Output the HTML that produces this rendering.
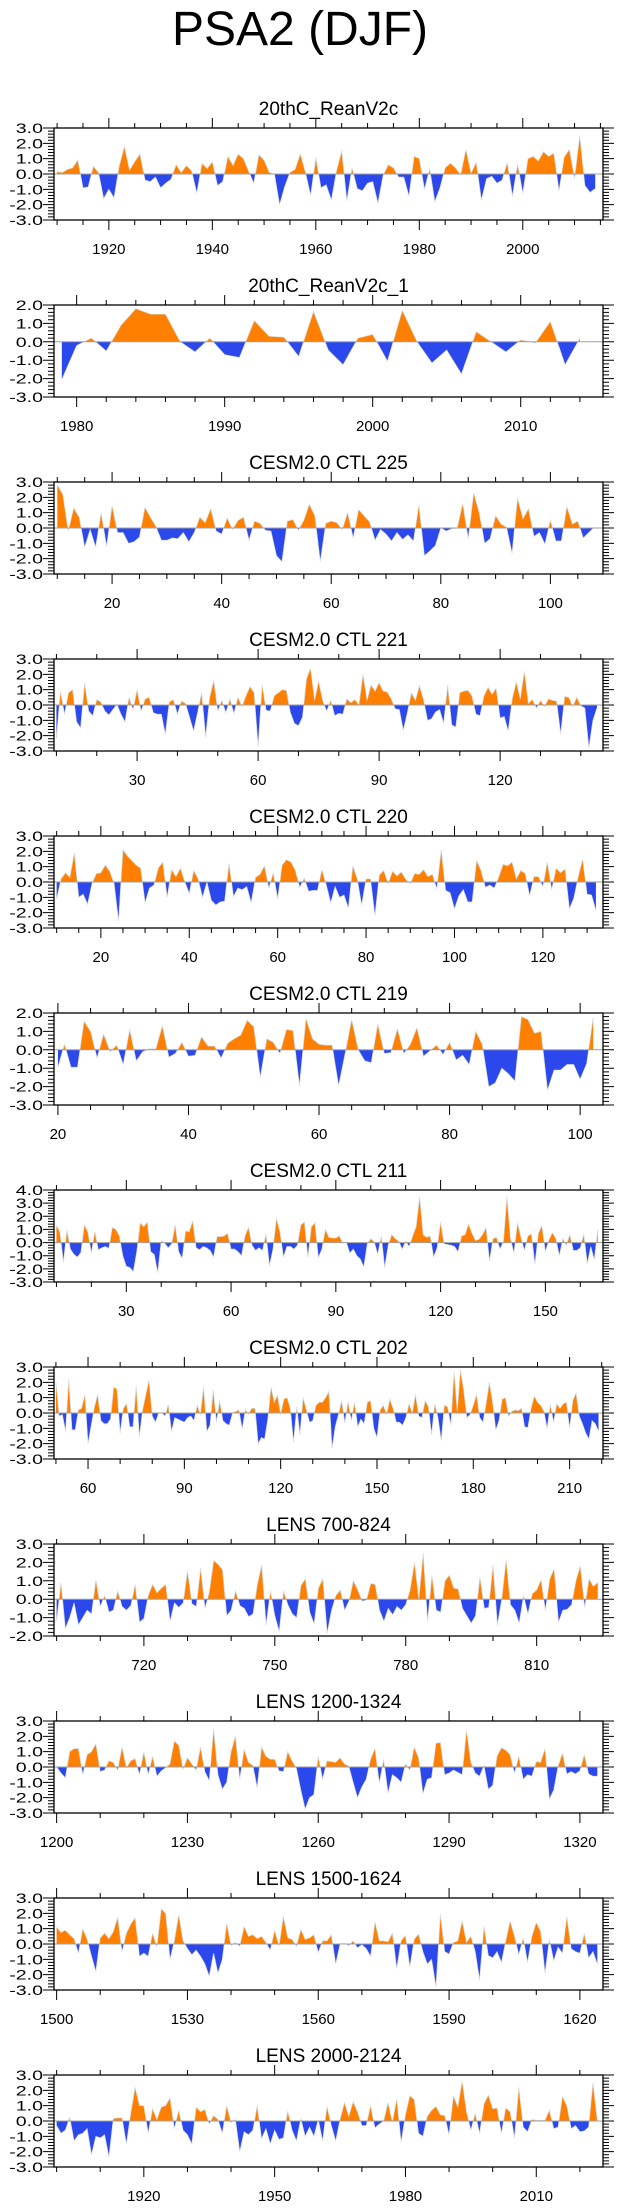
<!DOCTYPE html>
<html><head><meta charset="utf-8">
<style>
html,body{margin:0;padding:0;background:#fff;}
svg{display:block;font-family:"Liberation Sans",Arial,sans-serif;}
</style></head>
<body>
<svg id="fig" width="623" height="2209" viewBox="0 0 623 2209" xmlns="http://www.w3.org/2000/svg">
<text x="300" y="45" font-size="48" text-anchor="middle" fill="#000">PSA2 (DJF)</text>
</svg>
<script>
// ---- data (top-level arrays) ----
const p1Title = "20thC_ReanV2c";
const p1Start = 1910;
const p1Values = [0.15,0.1,0.3,0.4,0.9,-0.9,-0.85,0.5,0.1,-1.6,-1.0,-1.55,0.5,1.8,0.25,0.8,1.3,-0.4,-0.5,-0.2,-0.9,-0.6,-0.35,0.6,0.1,0.55,0.2,-1.25,0.7,0.35,0.8,-0.75,-0.5,1.15,0.55,1.3,1.0,0.2,-0.6,1.25,0.9,0.1,0,-2.0,-0.8,0.1,0.3,1.3,0.1,-1.4,1.05,-0.9,-0.7,-1.7,0.2,1.5,-1.75,0.4,-0.95,-1.1,-0.6,-0.5,-1.9,-0.1,0.6,0.4,-0.2,-0.2,-1.45,1.15,1.0,-1.0,0.35,-1.8,-0.9,0.4,0.7,0.4,-0.05,1.6,0.05,0.75,-1.7,-0.3,-0.15,-0.6,-0.4,0.75,-1.45,0.65,-1.25,1.0,1.15,0.85,1.45,1.15,1.35,-1.1,1.1,1.6,-0.3,2.5,-0.75,-1.2,-0.95];
const p1XTicks = [1920,1940,1960,1980,2000];

const p2Title = "20thC_ReanV2c_1";
const p2Start = 1979;
const p2Values = [-2.05,-0.2,0.2,-0.5,0.9,1.8,1.5,1.5,0.0,-0.55,0.2,-0.7,-0.85,1.15,0.3,0.25,-0.8,1.65,-0.45,-1.25,0.2,0.4,-1.05,1.7,0.0,-1.15,-0.45,-1.75,0.55,0.0,-0.55,0.1,-0.05,1.1,-1.25,0.2];
const p2XTicks = [1980,1990,2000,2010];

const p3Title = "CESM2.0 CTL 225";
const p3Start = 10;
const p3Values = [2.8,2.2,-0.2,1.3,0.7,-1.25,-0.1,-1.25,1.0,-1.2,1.45,-0.3,-0.3,-1.0,-0.9,-0.6,1.35,0.7,0.1,-0.8,-0.8,-0.65,-0.7,-0.3,-0.9,-0.3,0.7,0.35,1.25,-0.2,-0.4,0.65,-0.1,0.5,0.7,-0.8,0.45,0.3,-0.15,-0.2,-1.8,-2.2,0.45,0.55,-0.15,0.5,1.55,0.8,-2.2,0.3,0.45,0.35,-0.1,1.0,-0.65,1.2,0.8,0.4,-0.8,-0.1,-0.4,-0.85,-0.3,-0.75,-0.45,-0.85,1.5,-1.8,-1.5,-1.15,0.0,-0.2,-0.05,0.0,1.6,-0.7,2.3,1.0,-1.0,-0.7,0.8,0.25,0.05,-1.65,1.95,0.6,1.25,-0.55,-0.3,-1.05,0.5,-0.85,-0.85,1.4,0.25,0.45,-0.65,-0.3,0.05];
const p3XTicks = [20,40,60,80,100];

const p4Title = "CESM2.0 CTL 221";
const p4Start = 10;
const p4Values = [-2.2,0.9,-0.6,0.8,1.0,-1.1,-1.5,1.45,-0.4,-0.7,0.35,0.2,-0.4,-0.65,-0.3,0.05,-0.6,-1.1,0.5,-0.3,1.0,-0.4,0.4,0.5,-0.5,-0.6,-0.6,-1.9,0.2,0.35,-0.6,0.25,0.1,-0.8,-1.7,-0.5,0.8,-2.1,0.5,1.6,-0.4,0.3,-0.5,0.4,-0.55,0.5,-0.1,0.6,1.2,0.8,-2.7,1.3,-0.35,-0.4,0.6,0.8,1.0,0.95,-0.5,-1.2,-1.35,-0.8,1.7,2.4,0.3,1.55,0.3,-0.4,0.3,-0.7,-0.55,-0.6,0.4,0.15,0.35,0.0,2.0,0.3,1.3,0.9,1.45,0.9,0.85,0.4,-0.25,-0.3,-1.65,-0.5,0.8,0.3,1.25,0.35,-1.0,-0.9,-0.45,-0.3,-1.2,1.3,-1.3,-1.45,0.8,0.9,0.95,0.6,-0.6,-0.7,0.6,1.15,0.7,1.1,-0.85,-0.75,-1.7,0.4,1.5,0.4,2.2,0.1,0.35,-0.2,0.3,-0.1,0.4,0.3,0.25,-1.9,0.55,0.5,-0.1,0.5,-0.05,-0.2,-2.8,-1.0,-0.2];
const p4XTicks = [30,60,90,120];

const p5Title = "CESM2.0 CTL 220";
const p5Start = 10;
const p5Values = [-1.1,0.2,0.6,0.3,1.9,-1.0,-0.8,-1.45,-0.1,0.55,0.6,1.1,0.7,-0.1,-2.55,2.1,1.7,1.4,1.1,0.9,-1.35,-0.4,-0.2,0.9,1.3,-1.0,0.8,0.35,0.9,0.0,-0.75,0.75,0.2,-1.0,0.0,-1.2,-1.5,-1.3,-1.25,1.2,-0.95,-0.4,-0.5,-0.3,-1.35,0.3,0.5,1.05,-0.4,0.6,-1.1,1.1,1.45,1.3,0.75,-0.35,0.25,-0.6,-0.55,-0.55,0.8,-0.2,-1.35,-0.3,-1.0,-0.85,-1.7,1.05,0.2,-1.5,0.2,0.2,-2.2,0.45,0.75,-0.1,0.7,0.4,0.65,0.15,-0.1,0.55,0.5,0.8,0.35,0.5,-0.45,2.1,-0.55,-0.7,-1.75,-0.9,-0.5,-1.3,-1.3,1.4,0.75,-0.35,-0.2,-0.4,0.3,1.15,1.05,1.3,0.2,0.75,0.55,-0.9,0.35,0.35,-0.3,1.3,-0.5,0.9,0.6,0.85,-1.75,-1.05,0.35,1.5,-0.8,-0.85,-1.85];
const p5XTicks = [20,40,60,80,100,120];

const p6Title = "CESM2.0 CTL 219";
const p6Start = 20;
const p6Values = [-0.95,0.3,-0.95,-0.95,1.55,1.0,-0.45,0.85,-0.1,0.25,-0.8,1.1,-0.6,-0.1,0.05,0.05,1.3,-0.4,-0.2,0.4,-0.35,-0.3,0.7,0.2,0.2,-0.45,0.35,0.6,0.8,1.6,1.25,-1.5,0.6,0.4,-0.2,1.1,1.05,-1.95,1.7,0.6,0.3,0.25,0.25,-1.95,-0.2,1.65,0.0,-0.6,-0.7,1.4,-0.2,-0.15,1.15,-0.2,0.3,1.2,-0.35,-0.05,0.25,-0.25,0.4,-0.55,-0.3,-0.8,1.0,0.3,-2.0,-1.8,-1.0,-1.3,-1.7,1.8,1.65,0.9,1.0,-2.2,-1.1,-1.1,-0.8,-0.8,-1.6,-0.75,1.75];
const p6XTicks = [20,40,60,80,100];

const p7Title = "CESM2.0 CTL 211";
const p7Start = 10;
const p7Values = [1.3,0.8,-1.5,0.95,-0.5,-0.9,-1.1,-0.75,1.35,0.8,-0.8,0.85,-0.55,-0.4,-0.3,-0.45,1.15,1.0,0.5,-1.0,-1.8,-1.9,-2.2,-0.7,1.5,1.2,1.55,-0.7,-0.9,-2.3,0.15,-0.05,-0.4,-0.1,1.35,-0.7,-1.2,0.9,0.8,1.65,-0.4,-0.55,-0.3,-0.4,-0.6,-1.1,0.45,0.45,0.5,0.7,-0.5,-0.5,-0.7,-1.0,0.5,1.15,-0.2,-0.6,-0.4,-0.6,0.65,-1.75,-0.5,1.85,0.8,-1.1,-0.3,-0.3,-0.5,-0.2,1.35,1.55,-1.1,1.2,1.5,-1.15,-0.5,1.0,0.4,0.35,0.35,0.5,-0.05,0.05,-0.8,-0.5,-1.0,-1.25,-1.85,-0.1,0.3,0.05,-0.9,0.5,-1.9,-0.2,0.6,0.3,0.1,-0.5,0.1,-0.3,0.5,1.2,3.5,0.6,0.4,0.5,-1.1,-0.4,1.55,-0.1,-0.15,-0.2,-0.3,-0.7,0.5,0.6,1.4,0.7,0.15,0.25,0.6,1.15,-1.4,0.3,0.4,-0.5,0.1,3.5,0.3,-0.8,1.5,0.4,-0.6,0.5,0.65,-1.65,0.7,1.3,-0.7,0.2,0.75,0.3,-1.0,0.3,-0.2,0.6,-0.6,-0.6,-0.4,0.65,-1.6,-0.3,-1.3,1.0];
const p7XTicks = [30,60,90,120,150];

const p8Title = "CESM2.0 CTL 202";
const p8Start = 50;
const p8Values = [2.0,-0.2,-0.1,-1.2,2.2,-1.1,-1.1,0.2,0.3,1.2,-2.0,-0.8,0.4,1.2,-0.5,-0.7,-0.7,-0.4,1.7,1.55,-1.3,0.3,0.6,-0.9,-0.9,1.75,-1.55,0.2,1.2,2.15,-0.2,-0.6,0.0,0.0,-0.2,0.55,-1.2,-0.3,-0.4,-0.5,-0.6,-0.3,-0.2,-0.5,0.5,-0.1,1.7,-1.2,-0.8,1.5,-0.6,0.8,-0.5,-0.7,-0.8,0.0,0.1,0.2,-1.05,0.2,-0.05,0.3,0.3,-2.0,-1.6,-1.7,-0.4,1.7,0.7,1.15,-0.1,0.9,1.0,0.3,-1.9,0.4,-1.4,1.0,0.2,-0.6,-0.5,0.5,0.7,0.7,1.0,1.4,-2.3,-0.9,-0.1,0.8,-0.65,0.75,-0.5,0.7,-0.9,-0.4,-0.7,0.7,0.8,-1.0,-1.6,0.2,0.5,-0.1,0.9,0.3,-0.6,-0.6,-0.8,-0.3,0.6,0.0,1.2,-0.2,-0.3,0.8,0.4,-1.4,0.6,-0.3,-1.8,0.5,0.4,-0.8,2.7,0.1,2.8,1.5,-0.3,-0.1,0.5,1.2,-0.3,-0.6,0.6,2.0,0.7,-1.1,-0.5,0.9,1.0,-0.2,0.1,0.2,0.15,0.3,-0.9,-0.95,0.3,1.1,0.7,0.5,0.1,-1.0,0.55,-0.6,0.6,0.3,0.6,0.7,-1.0,0.8,1.3,-0.2,-0.7,-1.3,-1.7,-0.5,-0.7,-1.2];
const p8XTicks = [60,90,120,150,180,210];

const p9Title = "LENS 700-824";
const p9Start = 700;
const p9Values = [-1.2,0.9,-1.6,-1.0,-0.2,-1.4,-1.0,-0.6,-0.8,1.05,-0.4,0.2,-0.7,-0.6,0.45,-0.4,-0.6,-0.35,0.8,-1.25,-1.05,0.2,0.8,0.35,0.6,0.8,-1.2,-0.2,-0.45,-0.2,1.55,-0.25,-0.4,1.7,-0.5,0.4,2.1,1.9,1.6,-0.9,-0.6,0.45,-0.35,-0.5,-0.95,-0.8,0.8,1.85,-1.4,0.45,-0.9,-1.75,0.45,-0.3,-0.8,-1.0,0.75,1.1,-0.7,-1.35,0.6,1.1,-1.85,-0.6,0.2,0.5,-0.6,-0.1,1.0,0.5,-0.1,-0.05,0.85,0.8,-0.6,-1.2,-0.5,-0.85,-0.4,-0.6,-0.3,0.5,2.0,0.0,2.5,-1.2,1.3,-0.6,-0.7,1.0,1.3,0.6,0.55,-0.5,-0.9,-1.3,-0.9,1.2,-0.5,-0.45,1.85,-1.4,0.0,2.15,-0.3,-0.6,-1.3,0.2,-0.8,0.3,0.5,1.05,-0.6,1.1,1.65,-1.25,-0.6,-0.55,-0.3,1.0,1.8,-0.45,1.1,0.7,0.9];
const p9XTicks = [720,750,780,810];

const p10Title = "LENS 1200-1324";
const p10Start = 1200;
const p10Values = [0.0,-0.4,-0.7,1.0,1.2,1.2,-0.5,0.8,1.0,1.5,-0.3,-0.2,0.4,0.3,-0.2,1.3,-0.05,0.4,0.55,-0.5,1.0,-0.5,0.7,-0.6,-0.25,-0.05,0.2,1.7,1.4,-0.15,0.6,0.2,-0.2,1.3,-0.3,-0.9,2.5,-0.5,-1.45,-1.0,1.0,2.0,-0.8,1.15,0.3,0.1,-1.35,1.3,0.7,0.5,0.5,-0.25,-0.3,1.0,0.4,-0.1,-1.5,-2.75,-2.0,-1.8,0.7,-0.8,0.4,0.35,0.3,0.6,0.2,0.05,-1.0,-2.0,-1.3,-0.8,0.5,1.2,-1.05,0.5,-1.7,-0.5,-0.7,-1.0,0.2,-0.2,1.3,0.6,-1.75,-0.8,-0.7,1.55,1.6,-0.5,-0.4,-0.2,-0.35,-0.5,2.4,0.3,-0.4,-0.6,0.1,-1.45,-1.2,0.7,1.25,1.1,0.8,-0.4,0.7,-0.8,-0.5,-0.6,0.35,0.3,1.2,-2.1,-1.5,0.05,0.9,-0.45,-0.3,-0.45,-0.25,0.8,-0.45,-0.6,-0.6];
const p10XTicks = [1200,1230,1260,1290,1320];

const p11Title = "LENS 1500-1624";
const p11Start = 1500;
const p11Values = [1.1,0.75,0.9,0.6,0.35,-0.6,1.0,0.3,-0.8,-1.8,0.4,0.7,0.35,0.8,1.75,-0.5,0.7,1.3,1.7,-0.8,-0.6,-0.8,0.7,-0.2,2.3,2.0,-1.0,0.2,1.9,0.2,-0.3,-0.7,-0.4,-0.8,-1.3,-2.1,-0.6,-1.9,-1.0,1.35,-0.1,0.1,-0.15,1.15,0.5,0.6,0.35,0.5,0.1,-0.4,0.9,-0.15,1.8,0.4,0.3,-0.15,0.95,0.3,0.4,0.6,-0.55,0.2,0.2,0.6,-1.3,0.0,0.05,-0.1,0.2,-0.25,-0.05,-0.3,-0.8,1.45,0.2,0.2,0.15,0.7,-1.6,0.2,0.55,-1.5,0.3,0.65,-0.5,-1.3,-1.0,-2.8,1.95,-0.5,-0.65,0.1,0.2,1.5,0.1,0.5,-0.5,-2.35,1.15,-0.75,-0.9,-0.5,-1.2,0.2,1.5,0.5,-0.7,0.4,-1.2,0.5,1.4,0.8,-1.9,0.3,-1.1,-0.2,-0.6,1.8,-0.3,-0.5,-0.6,0.7,-0.9,-0.5,-1.3];
const p11XTicks = [1500,1530,1560,1590,1620];

const p12Title = "LENS 2000-2124";
const p12Start = 1900;
const p12Values = [-0.3,-0.8,-0.6,0.25,-1.3,-0.9,-0.8,-0.5,-2.2,-1.0,-1.1,-0.9,-2.35,0.15,0.2,0.2,-1.5,0.5,2.2,1.0,1.0,-0.8,0.8,0.1,0.9,1.0,1.5,-0.5,0.7,-0.6,-0.9,-1.5,0.9,0.6,0.75,-0.2,0.35,0.1,-0.8,1.0,-0.1,0.1,-2.0,-0.7,-0.9,-0.6,1.0,-1.15,-0.5,-1.5,-0.6,-1.2,-1.1,0.65,-0.6,-1.3,0.15,-1.0,-0.4,-1.0,0.1,-1.3,0.95,-0.3,-1.3,0.1,1.2,0.3,1.25,0.6,-0.3,-0.3,1.0,-0.45,-0.2,0.0,1.2,-0.1,1.45,-1.4,0.4,1.65,1.4,-0.8,-1.0,0.3,0.7,0.95,0.4,0.35,-0.9,1.65,0.9,2.6,0.6,-0.6,0.5,-0.8,1.1,1.7,0.8,0.85,-0.8,0.85,0.6,-1.1,2.2,-0.4,-0.7,0.1,0.05,0.05,0.05,0.7,-0.5,-0.4,1.6,1.0,-0.5,-0.3,-0.7,-0.65,-0.4,2.5,0.0];
const p12XTicks = [1920,1950,1980,2010];

// ---- layout ----
const NS = "http://www.w3.org/2000/svg";
const svg = document.getElementById('fig');
const PL = 54, PR = 603, PH = 92, TOP0 = 128, PITCH = 177;

const panels = [
  {title:p1Title, start:p1Start, vals:p1Values, ticks:p1XTicks, minor:5, xd:[1909.4,2015.5], yd:[-3,3]},
  {title:p2Title, start:p2Start, vals:p2Values, ticks:p2XTicks, minor:2, xd:[1978.47,2015.56], yd:[-3,2]},
  {title:p3Title, start:p3Start, vals:p3Values, ticks:p3XTicks, minor:5, xd:[9.4,109.6], yd:[-3,3]},
  {title:p4Title, start:p4Start, vals:p4Values, ticks:p4XTicks, minor:10, xd:[9.4,145.5], yd:[-3,3]},
  {title:p5Title, start:p5Start, vals:p5Values, ticks:p5XTicks, minor:5, xd:[9.4,133.6], yd:[-3,3]},
  {title:p6Title, start:p6Start, vals:p6Values, ticks:p6XTicks, minor:5, xd:[19.4,103.5], yd:[-3,2]},
  {title:p7Title, start:p7Start, vals:p7Values, ticks:p7XTicks, minor:10, xd:[9.3,166.5], yd:[-3,4]},
  {title:p8Title, start:p8Start, vals:p8Values, ticks:p8XTicks, minor:10, xd:[49.4,220.4], yd:[-3,3]},
  {title:p9Title, start:p9Start, vals:p9Values, ticks:p9XTicks, minor:10, xd:[699.4,825.2], yd:[-2,3]},
  {title:p10Title, start:p10Start, vals:p10Values, ticks:p10XTicks, minor:10, xd:[1199.4,1325.3], yd:[-3,3]},
  {title:p11Title, start:p11Start, vals:p11Values, ticks:p11XTicks, minor:10, xd:[1499.4,1625.3], yd:[-3,3]},
  {title:p12Title, start:p12Start, vals:p12Values, ticks:p12XTicks, minor:10, xd:[1899.4,2025.3], yd:[-3,3]}
];

function mk(tag, attrs, parent){
  const e = document.createElementNS(NS, tag);
  for (const k in attrs) e.setAttribute(k, attrs[k]);
  parent.appendChild(e);
  return e;
}

panels.forEach((p, i) => {
  const top = TOP0 + PITCH*i, bot = top + PH;
  const g = mk('g', {}, svg);
  
  
  const xs = v => PL + (v - p.xd[0]) / (p.xd[1]-p.xd[0]) * (PR-PL);
  const ys = v => bot - (v - p.yd[0]) / (p.yd[1]-p.yd[0]) * PH;
  const y0 = ys(0);

  const t = mk('text', {x:(PL+PR)/2, y:top-13, 'font-size':19, 'text-anchor':'middle', fill:'#000'}, g);
  t.textContent = p.title;
  
  

  let d = '';
  p.vals.forEach((v, k) => { d += (k ? 'L' : 'M') + xs(p.start+k).toFixed(2) + ',' + ys(v).toFixed(2); });
  const x0 = xs(p.start), xn = xs(p.start + p.vals.length - 1);
  const area = d + 'L' + xn.toFixed(2) + ',' + y0.toFixed(2) + 'L' + x0.toFixed(2) + ',' + y0.toFixed(2) + 'Z';
  const cpA = mk('clipPath', {id:'ca'+i}, g);
  mk('rect', {x:PL, y:top, width:PR-PL, height:y0-top}, cpA);
  const cpB = mk('clipPath', {id:'cb'+i}, g);
  mk('rect', {x:PL, y:y0, width:PR-PL, height:bot-y0}, cpB);
  const pos = mk('path', {d:area, fill:'#ff8000', 'clip-path':'url(#ca'+i+')'}, g);
  
  
  const neg = mk('path', {d:area, fill:'#2b48ec', 'clip-path':'url(#cb'+i+')'}, g);
  
  
  const ln = mk('path', {d:d, fill:'none', stroke:'#d8d8d8', 'stroke-width':0.7}, g);
  
  
  const zl = mk('line', {x1:PL, x2:PR, y1:y0, y2:y0, stroke:'#a0a0a0', 'stroke-width':1}, g);
  
  

  const fr = mk('rect', {x:PL, y:top, width:PR-PL, height:PH, fill:'none', stroke:'#000', 'stroke-width':1.3}, g);
  
  

  const mStart = Math.ceil(p.xd[0]/p.minor)*p.minor;
  let td = '';
  for (let v = mStart; v <= p.xd[1]; v += p.minor) {
    const major = p.ticks.includes(v);
    const L = major ? 10 : 5;
    const x = xs(v).toFixed(2);
    td += 'M'+x+','+top+'v'+(-L)+'M'+x+','+bot+'v'+L;
  }
  for (let v = p.yd[0]; v <= p.yd[1]+1e-6; v += 0.2) {
    const r = Math.round(v*10)/10;
    const major = Math.abs(r - Math.round(r)) < 1e-6;
    const L = major ? 11 : 6;
    const y = ys(r).toFixed(2);
    td += 'M'+PL+','+y+'h'+(-L)+'M'+PR+','+y+'h'+L;
  }
  const tk = mk('path', {d:td, stroke:'#000', 'stroke-width':1, fill:'none'}, g);
  
  

  p.ticks.forEach(v => {
    const lb = mk('text', {x:xs(v), y:bot+34, 'font-size':15, 'text-anchor':'middle', fill:'#000'}, g);
    lb.textContent = String(v);
    
    
  });
  for (let v = p.yd[0]; v <= p.yd[1]; v++) {
    const lb = mk('text', {x:0, y:0, 'font-size':14, 'text-anchor':'end', fill:'#000', transform:'translate(43,'+(ys(v)+5).toFixed(2)+') scale(1.4,1)'}, g);
    lb.textContent = v.toFixed(1);
    
    
  }
});
</script>
</body></html>
